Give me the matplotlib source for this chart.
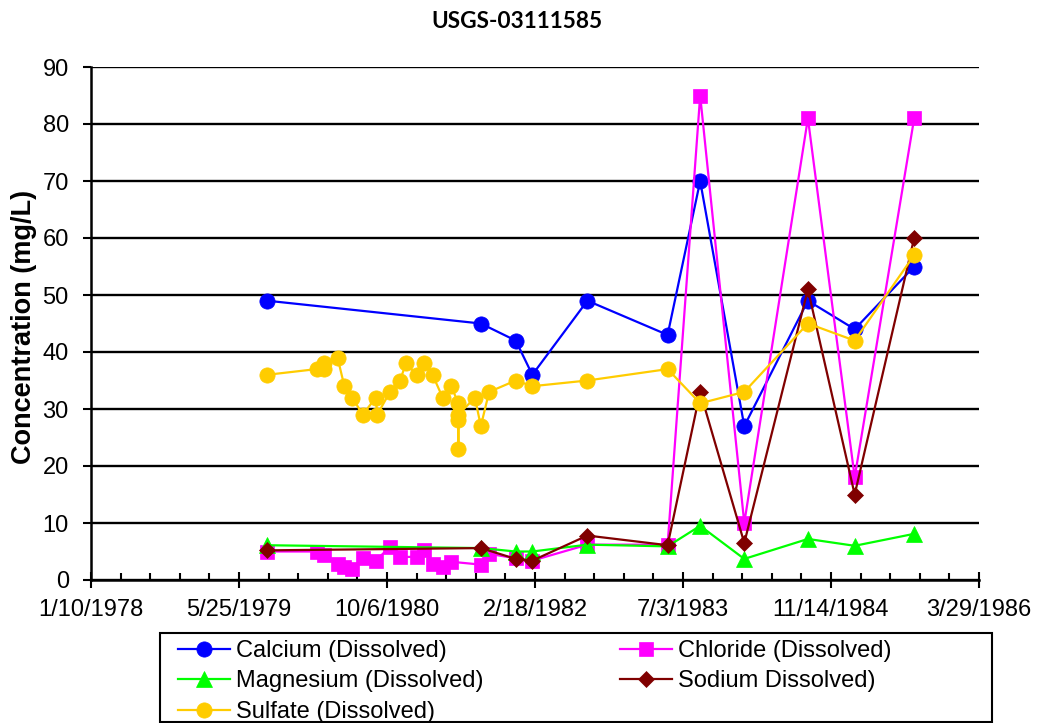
import datetime as dt
import matplotlib
matplotlib.use('Agg')
import matplotlib.pyplot as plt
import matplotlib.dates as mdates
from matplotlib.patches import Rectangle
from matplotlib.ticker import FixedLocator, FuncFormatter

plt.rcParams['font.family'] = ['Liberation Sans', 'DejaVu Sans']

# datos
calcium_dates = ['1979-08-28', '1981-08-19', '1981-12-15', '1982-02-09', '1982-08-14', '1983-05-12',
                 '1983-08-30', '1984-01-26', '1984-08-28', '1985-02-02', '1985-08-22']
calcium = [49, 45, 42, 36, 49, 43, 70, 27, 49, 44, 55]

chloride_dates = ['1979-08-28', '1980-02-11', '1980-03-07', '1980-04-22', '1980-05-15', '1980-06-11',
                  '1980-07-16', '1980-08-29', '1980-10-16', '1980-11-19', '1981-01-14', '1981-02-09',
                  '1981-03-09', '1981-04-12', '1981-05-11', '1981-08-19', '1981-09-16', '1981-12-15',
                  '1982-02-09', '1982-08-14', '1983-05-12', '1983-08-30', '1984-01-26', '1984-08-28',
                  '1985-02-02', '1985-08-22']
chloride = [5.0, 5.0, 4.3, 2.8, 2.2, 2.0, 3.9, 3.4, 5.8, 4.0, 4.1, 5.3, 2.8, 2.2, 3.2, 2.7, 4.6, 3.8,
            3.4, 6.2, 6.2, 85, 10, 81, 18, 81]

magnesium_dates = calcium_dates
magnesium = [6.1, 5.6, 5.0, 5.0, 6.2, 5.9, 9.5, 3.7, 7.2, 6.0, 8.1]

sodium_dates = calcium_dates
sodium = [5.2, 5.6, 3.7, 3.4, 7.8, 6.1, 33, 6.5, 51, 15, 60]

sulfate_dates = ['1979-08-28', '1980-02-11', '1980-03-07', '1980-03-07', '1980-04-22', '1980-05-15',
                 '1980-06-11', '1980-07-16', '1980-08-29', '1980-09-03', '1980-10-16', '1980-11-19',
                 '1980-12-09', '1981-01-14', '1981-02-09', '1981-03-09', '1981-04-12', '1981-05-11',
                 '1981-06-04', '1981-06-04', '1981-06-04', '1981-06-04', '1981-07-30', '1981-08-19',
                 '1981-09-16', '1981-12-15', '1982-02-09', '1982-08-14', '1983-05-12', '1983-08-30',
                 '1984-01-26', '1984-08-28', '1985-02-02', '1985-08-22']
sulfate = [36, 37, 37, 38, 39, 34, 32, 29, 32, 29, 33, 35, 38, 36, 38, 36, 32, 34,
           31, 23, 28, 29, 32, 27, 33, 35, 34, 35, 37, 31, 33, 45, 42, 57]

series = [
    ('Calcium (Dissolved)', calcium_dates, calcium, '#0000FF', 'o', 11),
    ('Chloride (Dissolved)', chloride_dates, chloride, '#FF00FF', 's', 10.5),
    ('Magnesium (Dissolved)', magnesium_dates, magnesium, '#00FF00', '^', 11),
    ('Sodium Dissolved)', sodium_dates, sodium, '#800000', 'D', 8),
    ('Sulfate (Dissolved)', sulfate_dates, sulfate, '#FFCC00', 'o', 11),
]

x_start = mdates.date2num(dt.date(1978, 1, 10))
x_end = x_start + 3000


def fecha(v, pos):
    d = mdates.num2date(v)
    return f"{d.month}/{d.day}/{d.year}"


fig = plt.figure(figsize=(10.38, 7.23), dpi=100)
ax = fig.add_axes([91 / 1038, 1 - 580 / 723, 888 / 1038, 513 / 723])

handles = []
for name, fechas, vals, color, marker, ms in series:
    x = mdates.datestr2num(fechas)
    h, = ax.plot(x, vals, color=color, lw=1.6, marker=marker, ms=ms,
                 markerfacecolor=color, markeredgecolor=color, markeredgewidth=0.5,
                 label=name, clip_on=False, zorder=3)
    handles.append(h)

ax.set_xlim(x_start, x_end)
ax.set_ylim(0, 90)
ax.set_yticks(range(0, 91, 10))
ax.xaxis.set_major_locator(FixedLocator([x_start + i * 500 for i in range(7)]))
ax.xaxis.set_minor_locator(FixedLocator([x_start + i * 100 for i in range(31)]))
ax.xaxis.set_major_formatter(FuncFormatter(fecha))

ax.grid(axis='y', color='black', lw=1.7, zorder=1)
ax.spines['top'].set_visible(False)
ax.spines['right'].set_visible(False)
ax.spines['left'].set_linewidth(1.8)
ax.spines['bottom'].set_linewidth(1.8)

ax.tick_params(axis='y', direction='out', length=6, width=1.5, labelsize=17, pad=10)
ax.tick_params(axis='x', which='major', direction='inout', length=12, width=1.5, labelsize=17, pad=8)
ax.tick_params(axis='x', which='minor', direction='in', length=5, width=1.5)

fig.text(517 / 1038, 1 - 21 / 723, 'USGS-03111585', ha='center', va='center',
         fontsize=16.3, fontweight='bold', family=['Lato', 'DejaVu Sans'])
fig.text(24 / 1038, 1 - 327 / 723, 'Concentration (mg/L)', rotation=90, ha='center', va='center',
         fontsize=19.5, fontweight='bold')

# marco de la leyenda
fig.patches.append(Rectangle((160 / 1038, 1 - 722 / 723), 832 / 1038, 89 / 723,
                             transform=fig.transFigure, fill=False, edgecolor='black', lw=1.5))

order = [0, 2, 4, 1, 3]
fig.legend([handles[i] for i in order], [series[i][0] for i in order],
           loc='upper left', bbox_to_anchor=(178 / 1038, 1 - 640 / 723), ncol=2,
           frameon=False, fontsize=17, handlelength=2.2, handletextpad=0.25,
           columnspacing=5.8, labelspacing=0.36, borderpad=0, borderaxespad=0)

fig.savefig('out.png', dpi=100)
